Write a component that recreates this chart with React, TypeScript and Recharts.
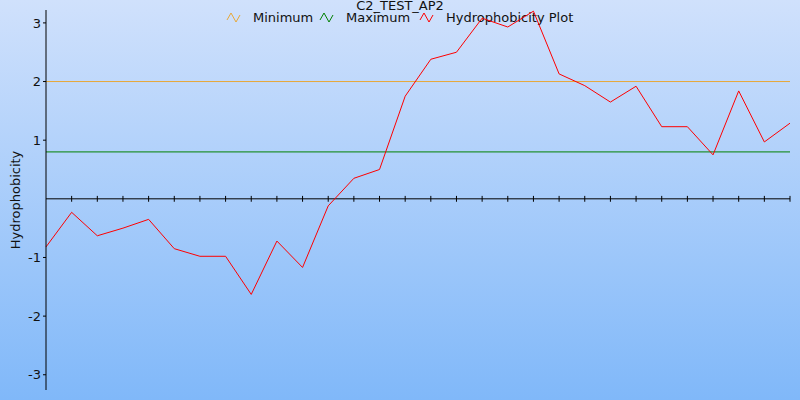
import React from 'react';
import { LineChart, Line, XAxis, YAxis, ReferenceLine } from 'recharts';

const positions = [0, 1, 2, 3, 4, 5, 6, 7, 8, 9, 10, 11, 12, 13, 14, 15, 16, 17, 18, 19, 20, 21, 22, 23, 24, 25, 26, 27, 28, 29];
const hydrophobicity = [-0.82, -0.23, -0.63, -0.5, -0.35, -0.85, -0.98, -0.98, -1.63, -0.72, -1.17, -0.12, 0.35, 0.5, 1.75, 2.38, 2.5, 3.08, 2.93, 3.2, 2.13, 1.93, 1.65, 1.92, 1.23, 1.23, 0.75, 1.84, 0.97, 1.29];
const minimumValue = 2;
const maximumValue = 0.8;
const yTicks = [-3, -2, -1, 1, 2, 3];
const legendItems = [
  { label: 'Minimum', color: '#e8a838', left: 226 },
  { label: 'Maximum', color: '#008000', left: 319 },
  { label: 'Hydrophobicity Plot', color: '#ff0000', left: 419 },
];

const font = '"DejaVu Sans", Verdana, sans-serif';

function Zig({ color }: { color: string }) {
  return (
    <svg width={15} height={12} style={{ display: 'block' }}>
      <polyline points="1,8 5,1 10,10 14,3" fill="none" stroke={color} strokeWidth={1} />
    </svg>
  );
}

export default function App() {
  const data = positions.map((p, i) => ({ pos: p, value: hydrophobicity[i] }));
  return (
    <div style={{
      position: 'absolute', left: 0, top: 0, width: 800, height: 400,
      background: 'linear-gradient(to bottom, #d0e1fc 0%, #80b8f9 100%)',
      fontFamily: font, overflow: 'hidden'
    }}>
      <div style={{
        position: 'absolute', top: 0, left: 0, width: 800, textAlign: 'center',
        fontSize: 13, color: '#111', lineHeight: '11px'
      }}>
        C2_TEST_AP2
      </div>
      {legendItems.map((it, i) => (
        <div key={i} style={{
          position: 'absolute', top: 11, left: it.left, display: 'flex', alignItems: 'center',
          fontSize: 13, color: '#111', lineHeight: '14px'
        }}>
          <Zig color={it.color} />
          <span style={{ marginLeft: 12 }}>{it.label}</span>
        </div>
      ))}
      <LineChart width={800} height={400} data={data} margin={{ top: 10, right: 10, bottom: 10, left: 0 }}>
        <XAxis dataKey="pos" type="number" domain={[0, 29]} hide />
        <YAxis
          domain={[-3.26, 3.22]}
          ticks={yTicks}
          width={46}
          axisLine={{ stroke: '#000', strokeWidth: 1 }}
          tickLine={{ stroke: '#000' }}
          tickSize={3}
          tickMargin={2}
          tick={{ fill: '#111', fontSize: 13, fontFamily: font }}
          label={{ value: 'Hydrophobicity', angle: -90, position: 'insideLeft', offset: 15, style: { fill: '#111', fontSize: 13, fontFamily: font, textAnchor: 'middle' } }}
        />
        <ReferenceLine y={0} stroke="#000" strokeWidth={1} />
        {positions.slice(1).map(p => (
          <ReferenceLine key={p} segment={[{ x: p, y: -0.05 }, { x: p, y: 0.05 }]} stroke="#000" strokeWidth={1} />
        ))}
        <ReferenceLine y={minimumValue} stroke="#e8a838" strokeWidth={1} />
        <ReferenceLine y={maximumValue} stroke="#008000" strokeWidth={1} />
        <Line type="linear" dataKey="value" stroke="#ff0000" strokeWidth={1} dot={false} isAnimationActive={false} />
      </LineChart>
    </div>
  );
}
